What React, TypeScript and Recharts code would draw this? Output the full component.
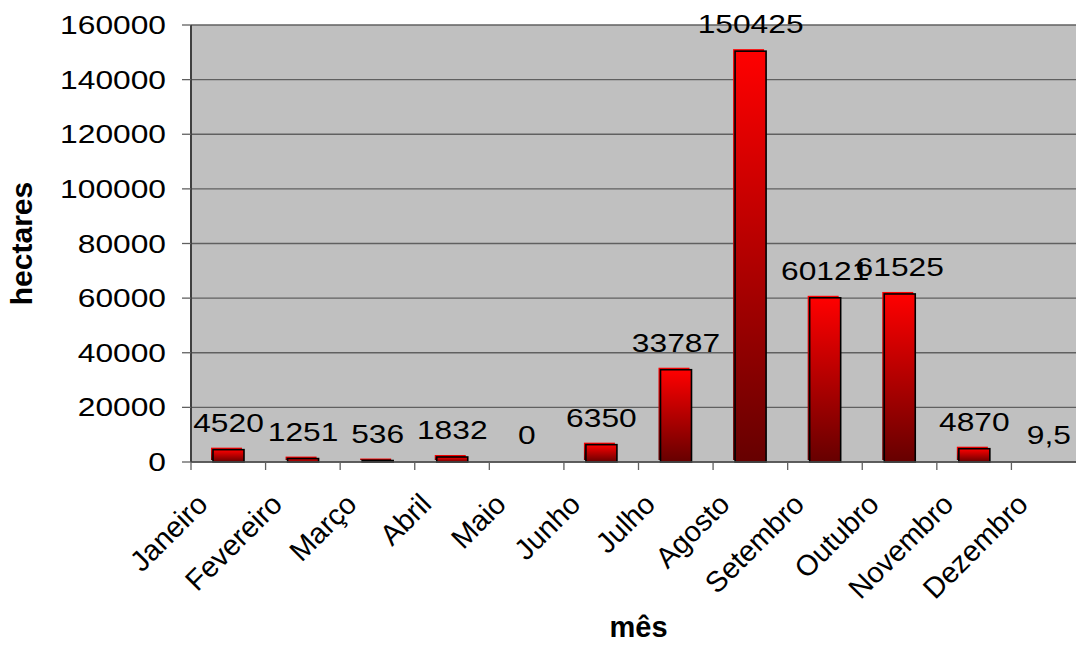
import React from 'react';
import { BarChart, Bar, XAxis, YAxis, CartesianGrid, LabelList, Label } from 'recharts';

const months = ['Janeiro', 'Fevereiro', 'Março', 'Abril', 'Maio', 'Junho', 'Julho', 'Agosto', 'Setembro', 'Outubro', 'Novembro', 'Dezembro'];
const hectares = [4520, 1251, 536, 1832, 0, 6350, 33787, 150425, 60121, 61525, 4870, 9.5];
const yTicks = [0, 20000, 40000, 60000, 80000, 100000, 120000, 140000, 160000];

const data = months.map((mes, i) => ({ mes, hectares: hectares[i] }));

const W = 1100;
const H = 645;
const MARGIN = { top: 25, right: 14, bottom: 33, left: 0 };
const Y_AXIS_W = 191;
const BAND = (W - MARGIN.right - Y_AXIS_W) / months.length;
const FONT = '"Liberation Sans", Arial, sans-serif';

// two stacked rects: a plain one nudged up-left, then the outlined one on top
const BarShape = (props: any) => {
  const { x, y, width, height } = props;
  if (!height || height < 1) return null;
  return (
    <g>
      <rect x={x - 2} y={y - 2} width={width} height={height} fill="url(#barFill)" />
      <rect x={x} y={y} width={width} height={height} fill="url(#barFill)" stroke="#000" strokeWidth={1.6} />
    </g>
  );
};

const ValueLabel = (props: any) => {
  const { x, y, width, value } = props;
  const txt = String(value).replace('.', ',');
  return (
    <text
      transform={`translate(${x + width / 2},${y - 18}) scale(1.27,1)`}
      textAnchor="middle"
      fontSize={25}
      fontFamily={FONT}
      fill="#000"
    >
      {txt}
    </text>
  );
};

const YTick = ({ x, y, payload }: any) => (
  <text
    transform={`translate(${x},${y}) scale(1.27,1)`}
    textAnchor="end"
    dy="0.36em"
    fontSize={25}
    fontFamily={FONT}
    fill="#000"
  >
    {payload.value}
  </text>
);

const XTick = ({ x, y, payload }: any) => (
  <g>
    <line x1={x - BAND / 2} x2={x - BAND / 2} y1={y} y2={y + 8} stroke="#606060" strokeWidth={1.3} />
    <text
      transform={`translate(${x - 19},${y + 44}) rotate(-45)`}
      textAnchor="end"
      fontSize={29}
      fontFamily={FONT}
      fill="#000"
    >
      {payload.value}
    </text>
  </g>
);

export default function App() {
  return (
    <div style={{ position: 'absolute', left: 0, top: 0, width: 1076, height: 645, overflow: 'hidden', background: '#fff' }}>
      <BarChart width={W} height={H} data={data} margin={MARGIN} barSize={31}>
        <defs>
          <linearGradient id="barFill" x1="0" y1="0" x2="0" y2="1">
            <stop offset="0%" stopColor="#ff0000" />
            <stop offset="100%" stopColor="#660000" />
          </linearGradient>
        </defs>
        <CartesianGrid vertical={false} stroke="#606060" strokeWidth={1.3} fill="#c0c0c0" fillOpacity={1} />
        <XAxis
          dataKey="mes"
          interval={0}
          height={150}
          tickSize={0}
          tickMargin={0}
          tickLine={false}
          axisLine={{ stroke: '#505050', strokeWidth: 1.5 }}
          tick={<XTick />}
        >
          <Label
            content={(p: any) => (
              <text
                x={p.viewBox.x + p.viewBox.width / 2}
                y={637}
                textAnchor="middle"
                fontSize={29}
                fontWeight="bold"
                fontFamily={FONT}
                fill="#000"
              >
                mês
              </text>
            )}
          />
        </XAxis>
        <YAxis
          width={Y_AXIS_W}
          domain={[0, 160000]}
          ticks={yTicks}
          interval={0}
          tickSize={9}
          tickMargin={16}
          tickLine={{ stroke: '#606060', strokeWidth: 1.3 }}
          axisLine={{ stroke: '#404040', strokeWidth: 2 }}
          tick={<YTick />}
        >
          <Label
            content={() => (
              <text
                transform="translate(32,243.5) rotate(-90)"
                textAnchor="middle"
                fontSize={30}
                fontWeight="bold"
                fontFamily={FONT}
                fill="#000"
              >
                hectares
              </text>
            )}
          />
        </YAxis>
        <Bar dataKey="hectares" shape={<BarShape />} isAnimationActive={false}>
          <LabelList dataKey="hectares" content={<ValueLabel />} />
        </Bar>
      </BarChart>
    </div>
  );
}
